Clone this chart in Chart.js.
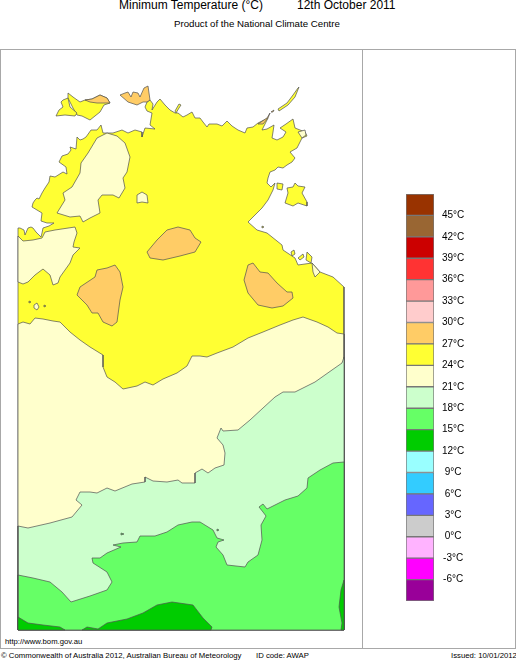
<!DOCTYPE html>
<html>
<head>
<meta charset="utf-8">
<title>Minimum Temperature</title>
<script src="https://cdn.jsdelivr.net/npm/chart.js@4"></script>
<style>
  html, body { margin: 0; padding: 0; background: #fff; }
  body { position: relative; width: 516px; height: 660px; overflow: hidden; font-family: "Liberation Sans", Arial, sans-serif; color: #000; }
  canvas { position: absolute; }
  #mapa { left: 16px; top: 83px; }
  #barra { left: 406px; top: 184px; }
  .frame { position: absolute; border: 1px solid #a8a8a8; box-sizing: border-box; }
  .txt { position: absolute; white-space: nowrap; line-height: 1; }
</style>
</head>
<body>
<div class="frame" style="left:0;top:49px;width:363px;height:600px"></div>
<div class="frame" style="left:362px;top:49px;width:154px;height:600px"></div>
<canvas id="mapa" width="331" height="549"></canvas>
<canvas id="barra" width="68" height="427"></canvas>
<div class="txt" style="left:119px;top:-1px;font-size:12px">Minimum Temperature (°C)</div>
<div class="txt" style="left:297px;top:-1px;font-size:12px">12th October 2011</div>
<div class="txt" style="left:174px;top:19px;font-size:9.7px">Product of the National Climate Centre</div>
<div class="txt" style="left:5px;top:638px;font-size:7.7px">http://www.bom.gov.au</div>
<div class="txt" style="left:1px;top:652px;font-size:7.75px">© Commonwealth of Australia 2012, Australian Bureau of Meteorology</div>
<div class="txt" style="left:256px;top:652px;font-size:7.75px">ID code: AWAP</div>
<div class="txt" style="left:451px;top:652px;font-size:7.75px">Issued: 10/01/2012</div>
<script>
// Temperature bands of the colour bar, coldest first
const BAND_EDGES = [-9, -6, -3, 0, 3, 6, 9, 12, 15, 18, 21, 24, 27, 30, 33, 36, 39, 42, 45, 48];
const BAND_COLORS = ["#990099", "#ff00ff", "#ffb3ff", "#cccccc", "#6666ff", "#33ccff", "#99ffff",
  "#00cc00", "#66ff66", "#ccffcc", "#ffffcc", "#ffff33", "#ffcc66", "#ffcccc", "#ff9999", "#ff3333",
  "#cc0000", "#996633", "#993300"];

// Map areas as [easting, northing] on the map grid
const MAINLAND = [[0,402],[2,402],[6,400],[7,395],[10,402],[13,403],[15,402],[18,398],[21,395],[23,393],[24,397],[25,402],[31,404],[36,407],[29,407],[23,409],[24,417],[14,423],[15,427],[17,430],[19,432],[21,431],[24,437],[27,442],[31,448],[32,454],[37,453],[45,458],[49,456],[48,463],[41,468],[44,474],[50,476],[53,480],[52,483],[58,481],[59,493],[62,490],[65,491],[68,493],[73,500],[79,500],[83,505],[85,497],[95,497],[104,500],[110,497],[117,500],[124,498],[124,493],[127,502],[137,501],[132,505],[134,517],[129,519],[127,523],[129,528],[132,530],[135,526],[134,520],[139,528],[142,531],[147,525],[152,520],[157,517],[160,517],[165,513],[169,515],[174,518],[177,512],[182,512],[185,508],[189,503],[191,506],[199,506],[204,504],[209,509],[214,504],[220,500],[227,497],[229,502],[235,503],[240,507],[250,512],[244,500],[249,501],[256,505],[255,498],[254,492],[259,490],[265,493],[268,498],[262,502],[268,506],[275,511],[277,502],[287,498],[289,494],[284,492],[279,482],[272,478],[277,472],[274,468],[269,465],[265,462],[260,463],[257,460],[252,458],[250,452],[249,447],[253,443],[257,447],[255,440],[250,430],[244,422],[237,415],[230,408],[239,400],[249,397],[264,385],[265,380],[277,372],[280,365],[294,367],[302,358],[315,353],[326,343],[326,0],[0,0]];
const MELVILLE = [[50,537],[55,533],[62,528],[67,530],[74,531],[82,535],[89,532],[92,527],[86,525],[82,518],[72,510],[64,514],[59,515],[55,522],[50,532]];
const BATHURST = [[45,530],[50,532],[52,523],[59,517],[57,514],[47,515],[38,514],[41,520],[45,523],[43,528]];
const GROOTE = [[277,447],[280,444],[287,443],[284,437],[289,428],[289,424],[280,427],[275,424],[267,427],[270,437],[269,442],[275,443]];
const WESSEL = [[281,543],[277,533],[270,525],[261,519],[260,521],[269,527],[275,535],[280,542]];
const CROKER = [[161,526],[163,525],[161,522],[158,517],[157,519]];
const ISLETS_YELLOW = [
  [[259,447],[265,446],[264,440],[259,441]],
  [[244,404],[246,403],[244,402]],
  [[273,378],[276,380],[277,376],[274,374]],
  [[280,372],[285,376],[286,373],[282,370]],
  [[289,378],[294,373],[293,367],[288,370]],
  [[11,329],[13,328],[11,327]],
  [[26,325],[28,324],[26,323]]
];

// Cooler and warmer bands, painted over the mainland
const COOL_SOUTH = [[0,306],[5,308],[12,306],[17,312],[25,311],[35,309],[42,308],[52,298],[62,290],[72,283],[85,275],[85,263],[89,253],[97,248],[105,241],[119,244],[127,248],[135,245],[145,251],[159,257],[169,264],[174,274],[182,274],[189,273],[199,277],[215,283],[230,292],[245,298],[262,305],[275,310],[285,313],[299,308],[310,303],[319,297],[326,296],[326,0],[0,0]];
const COOL_NORTH = [[89,497],[99,494],[107,487],[112,473],[109,458],[105,452],[107,442],[101,432],[95,435],[89,435],[84,435],[80,430],[82,417],[72,412],[65,408],[62,414],[52,413],[39,417],[47,430],[45,437],[54,443],[62,457],[63,467],[70,477],[79,492]];
const COOL_WEST = [[0,394],[5,389],[15,390],[24,392],[27,398],[37,400],[57,403],[59,397],[56,388],[55,383],[62,382],[55,375],[52,367],[42,353],[40,347],[35,345],[32,355],[25,361],[17,355],[10,348],[5,346],[0,348]];
const COOL_SPOTS = [
  [[119,435],[124,438],[129,435],[130,427],[124,428],[119,427]],
  [[280,498],[287,500],[288,495],[284,492]],
  [[294,367],[302,358],[297,353],[295,358]],
  [[16,325],[19,327],[21,323],[19,320],[16,322]]
];
const PALE_GREEN = [[326,273],[324,267],[314,260],[297,248],[277,238],[265,238],[257,233],[245,222],[232,210],[220,200],[205,199],[203,202],[199,192],[205,185],[207,177],[206,165],[197,162],[190,157],[184,161],[177,157],[177,147],[164,147],[160,150],[149,148],[135,149],[127,153],[127,148],[114,146],[97,139],[89,142],[79,137],[72,138],[62,138],[58,130],[64,125],[54,113],[32,107],[10,102],[0,104],[0,0],[326,0]];
const GREEN = [[326,168],[315,167],[302,160],[290,152],[289,142],[280,134],[267,130],[249,121],[245,126],[241,123],[245,118],[248,114],[243,105],[244,90],[240,75],[230,68],[227,63],[209,65],[205,75],[198,83],[200,88],[206,90],[199,92],[195,100],[182,108],[174,108],[160,105],[149,98],[137,94],[122,94],[119,88],[105,87],[95,85],[103,83],[89,77],[82,72],[74,72],[75,67],[89,58],[94,48],[89,40],[72,34],[53,28],[44,38],[32,48],[15,52],[0,55],[0,0],[326,0]];
const GREEN_SPECKS = [
  [[103,97],[106,96],[103,95]],
  [[199,101],[201,100],[199,99]]
];
const DARK_GREEN = [
  [[64,0],[69,3],[80,1],[89,7],[109,11],[125,17],[139,25],[154,28],[175,25],[185,12],[194,3],[193,0]],
  [[0,13],[10,7],[25,5],[42,3],[47,0],[0,0]],
  [[326,50],[323,40],[321,23],[324,7],[323,0],[326,0]]
];
const WARM = [
  [[160,403],[172,400],[177,392],[183,388],[177,378],[162,374],[145,370],[132,372],[129,378],[139,390],[149,400]],
  [[97,365],[102,358],[105,343],[102,330],[99,308],[94,304],[85,308],[80,317],[74,317],[69,325],[59,335],[62,343],[77,353],[79,360],[89,362]],
  [[235,367],[242,358],[250,357],[259,347],[269,338],[274,338],[275,332],[265,324],[254,322],[240,325],[230,337],[226,350],[230,365]],
  [[102,535],[107,537],[110,538],[113,533],[115,538],[120,537],[122,533],[126,542],[130,544],[132,530],[129,528],[125,528],[119,525],[110,528]],
  [[67,530],[74,531],[82,535],[89,532],[92,527],[84,527],[79,527],[72,528]],
  [[240,506],[249,512],[252,517],[250,512],[245,506]],
  [[253,518],[256,520],[255,518]]
];

const COLOR_LINEA = "#505050";

function area(puntos, color) {
  const cerrado = [...puntos, puntos[0]].map(p => ({ x: p[0], y: p[1] }));
  return {
    data: cerrado,
    showLine: true,
    fill: "shape",
    backgroundColor: color,
    borderColor: COLOR_LINEA,
    borderWidth: 0.7,
    pointRadius: 0,
    clip: false,
  };
}

// Painter's order: each area goes over the ones before it
const capas = [
  area(MAINLAND, "#ffff33"),
  area(MELVILLE, "#ffff33"),
  area(BATHURST, "#ffff33"),
  area(GROOTE, "#ffff33"),
  area(WESSEL, "#ffff33"),
  area(CROKER, "#ffff33"),
  ...ISLETS_YELLOW.map(p => area(p, "#ffff33")),
  area(COOL_SOUTH, "#ffffcc"),
  area(COOL_NORTH, "#ffffcc"),
  area(COOL_WEST, "#ffffcc"),
  ...COOL_SPOTS.map(p => area(p, "#ffffcc")),
  area(PALE_GREEN, "#ccffcc"),
  area(GREEN, "#66ff66"),
  ...GREEN_SPECKS.map(p => area(p, "#66ff66")),
  ...DARK_GREEN.map(p => area(p, "#00cc00")),
  ...WARM.map(p => area(p, "#ffcc66")),
];
capas.forEach((c, i) => { c.order = capas.length - i; });

new Chart(document.getElementById("mapa"), {
  type: "scatter",
  data: { datasets: capas },
  options: {
    responsive: false,
    animation: false,
    layout: { padding: 2 },
    plugins: { legend: { display: false }, tooltip: { enabled: false } },
    scales: {
      x: { type: "linear", min: 0, max: 327, display: false },
      y: { type: "linear", min: 0, max: 545, display: false },
    },
  },
});

new Chart(document.getElementById("barra"), {
  type: "bar",
  data: {
    labels: ["°C"],
    datasets: BAND_COLORS.map((color, i) => ({
      data: [[BAND_EDGES[i], BAND_EDGES[i + 1]]],
      backgroundColor: color,
      borderColor: "#777777",
      borderWidth: 1,
      borderSkipped: false,
      barPercentage: 1,
      categoryPercentage: 1,
    })),
  },
  options: {
    responsive: false,
    animation: false,
    layout: { padding: { top: 10, bottom: 10 } },
    plugins: { legend: { display: false }, tooltip: { enabled: false } },
    scales: {
      x: { display: false, stacked: true },
      y: {
        position: "right",
        min: -9,
        max: 48,
        grid: { display: false },
        border: { display: false },
        afterFit: scale => { scale.width = 40; },
        ticks: {
          stepSize: 3,
          autoSkip: false,
          color: "#000",
          crossAlign: "center",
          padding: 0,
          font: { family: "'Liberation Sans'", size: 10 },
          callback: v => (v > -9 && v < 48 ? `${v}°C` : null),
        },
      },
    },
  },
});
</script>
</body>
</html>
